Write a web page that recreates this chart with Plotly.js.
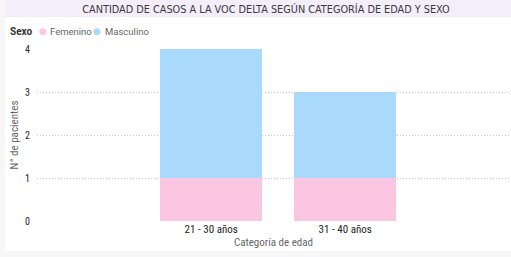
<!DOCTYPE html>
<html><head><meta charset="utf-8">
<script src="https://cdn.plot.ly/plotly-3.0.1.min.js"></script>
<style>html,body{margin:0;padding:0;background:#f7f7f7;}#c{width:511px;height:257px;}</style>
</head><body><div id="c"></div>
<script>
const categories = ["21 - 30 años", "31 - 40 años"];
const femenino = [1, 1];
const masculino = [3, 2];
const seriesNames = ["Femenino", "Masculino"];
const legendTitle = "Sexo";
const colors = ["#FAC6E2", "#A9D9FB"];

const W = 511, H = 257, L = 37, R = 1, T = 49, B = 36;
const pw = W - L - R, ph = H - T - B;
const px = x => (x - L) / pw;
const py = y => 1 - (y - T) / ph;

const font = "Segoe UI, Roboto, 'Open Sans', sans-serif";
const cond = "'Roboto Condensed', 'Liberation Sans Narrow', 'DejaVu Sans Condensed', sans-serif";
const titleFont = "'DejaVu Sans Condensed', sans-serif";

const traces = [
  {type: "bar", x: categories, y: femenino, name: seriesNames[0], marker: {color: colors[0]}, width: 0.76, hoverinfo: "y"},
  {type: "bar", x: categories, y: masculino, name: seriesNames[1], marker: {color: colors[1]}, width: 0.76, hoverinfo: "y"}
];

const legY = py(31);
const annotations = [
  {text: "<b>" + legendTitle + "</b>", xref: "paper", yref: "paper", x: px(8), y: legY, xanchor: "left", yanchor: "middle", showarrow: false, font: {family: font, size: 10, color: "#333333"}},
  {text: "●", xref: "paper", yref: "paper", x: px(43), y: legY, xanchor: "center", yanchor: "middle", showarrow: false, font: {family: "DejaVu Sans", size: 9, color: colors[0]}},
  {text: seriesNames[0], xref: "paper", yref: "paper", x: px(48), y: legY, xanchor: "left", yanchor: "middle", showarrow: false, font: {family: font, size: 9.5, color: "#666666"}},
  {text: "●", xref: "paper", yref: "paper", x: px(97), y: legY, xanchor: "center", yanchor: "middle", showarrow: false, font: {family: "DejaVu Sans", size: 9, color: colors[1]}},
  {text: seriesNames[1], xref: "paper", yref: "paper", x: px(103), y: legY, xanchor: "left", yanchor: "middle", showarrow: false, font: {family: font, size: 9.5, color: "#666666"}}
];

const layout = {
  width: W, height: H,
  margin: {l: L, r: R, t: T, b: B, pad: 0},
  paper_bgcolor: "rgba(0,0,0,0)",
  plot_bgcolor: "rgba(0,0,0,0)",
  barmode: "stack",
  title: {text: "CANTIDAD DE CASOS A LA VOC DELTA SEGÚN CATEGORÍA DE EDAD Y SEXO",
    font: {family: titleFont, size: 10.8, color: "#3a3a3a"}, x: 266 / W, xanchor: "center", y: 1 - 9 / H, yanchor: "middle"},
  showlegend: false,
  annotations: annotations,
  xaxis: {type: "category", range: [-1.30, 2.23], showgrid: false, zeroline: false, showline: false, ticks: "",
    tickfont: {family: cond, size: 11, color: "#252423"},
    title: {text: "Categoría de edad", font: {family: cond, size: 11, color: "#666666"}, standoff: 1}, fixedrange: true},
  yaxis: {range: [0, 4], dtick: 1, showgrid: true, gridcolor: "#c4c4c4", griddash: "1px,2px", gridwidth: 1,
    zeroline: false, showline: false, ticks: "", ticklabelstandoff: 6,
    tickfont: {family: cond, size: 10, color: "#252423"},
    title: {text: "N° de pacientes", font: {family: cond, size: 11, color: "#666666"}, standoff: 4}, fixedrange: true},
  shapes: [
    {type: "rect", xref: "paper", yref: "paper", x0: px(5), x1: px(511), y0: py(0), y1: py(251), fillcolor: "#ffffff", line: {width: 0}, layer: "below"},
    {type: "rect", xref: "paper", yref: "paper", x0: px(5), x1: px(511), y0: py(0), y1: py(17), fillcolor: "#F3EEFA", line: {width: 0}, layer: "below"}
  ]
};

Plotly.newPlot("c", traces, layout, {displayModeBar: false, staticPlot: true});
</script></body></html>
